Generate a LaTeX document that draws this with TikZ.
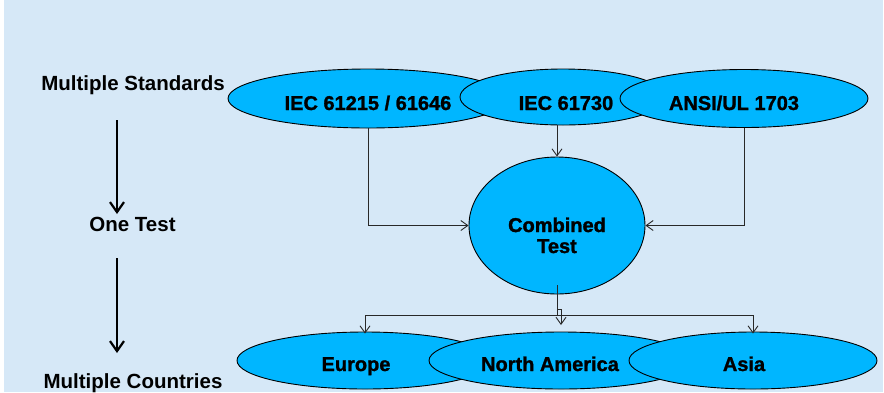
\documentclass[tikz,border=0pt]{standalone}
\usepackage{fontspec}
\setmainfont{Liberation Sans}
\newfontfamily\heavyfont[FakeBold=1.6]{Liberation Sans Bold}
\newfontfamily\ovalfont[FakeBold=1.2]{Liberation Sans Bold}
\usetikzlibrary{shapes.geometric,arrows.meta}
\definecolor{bgblue}{RGB}{214,232,247}
\definecolor{skyfill}{RGB}{0,182,255}
\definecolor{connline}{RGB}{40,40,40}
\tikzset{
  oval/.style={ellipse, draw=black, line width=0.9pt, fill=skyfill, inner sep=0pt},
  ovaltext/.style={anchor=base, font=\fontsize{20}{23}\ovalfont, inner sep=0pt},
  sidelabel/.style={font=\fontsize{20.5}{23}\selectfont\bfseries, inner sep=0pt},
  conn/.style={draw=connline, line width=0.9pt, -{Straight Barb[length=7pt,width=10pt]}},
  plainconn/.style={draw=connline, line width=0.9pt},
  bigarrow/.style={draw=black, line width=2.2pt, -{Straight Barb[length=10pt,width=14pt,line width=2.2pt]}}
}
\begin{document}
\begin{tikzpicture}[x=1pt,y=-1pt]
\useasboundingbox (0,0) rectangle (884,392);
\fill[white] (0,0) rectangle (884,392);
\fill[bgblue] (4,0) rectangle (883,392);

% left labels
\node[sidelabel] (ms) at (133,85) {Multiple Standards};
\node[sidelabel] (ot) at (132.5,224) {One Test};
\node[sidelabel] (mc) at (133,383) {Multiple Countries};
\coordinate (a1s) at (117,120);
\coordinate (a1e) at (117,214);
\coordinate (a2s) at (117,258);
\coordinate (a2e) at (117,353);
\draw[bigarrow] (a1s) -- (a1e);
\draw[bigarrow] (a2s) -- (a2e);

% top ellipses
\node[oval, minimum width=280pt, minimum height=59pt] (e1) at (368,98.5) {};
\node[oval, minimum width=206pt, minimum height=56pt] (e2) at (563,97) {};
\node[oval, minimum width=248pt, minimum height=58pt] (e3) at (744,98.5) {};
\node[ovaltext] (t1) at (368,110) {IEC 61215 / 61646};
\node[ovaltext] (t2) at (566,110) {IEC 61730};
\node[ovaltext] (t3) at (734,110) {ANSI/UL 1703};

% combined test
\node[oval, minimum width=176pt, minimum height=137pt] (ct) at (557,225.5) {};
\node[anchor=base, inner sep=0pt, font=\fontsize{20}{23}\heavyfont] (ct1) at (557,232) {Combined};
\node[anchor=base, inner sep=0pt, font=\fontsize{20}{23}\heavyfont] (ct2) at (557,253) {Test};

% bottom ellipses
\node[oval, minimum width=256pt, minimum height=57pt] (eu) at (365,360.5) {};
\node[oval, minimum width=264pt, minimum height=57pt] (na) at (561,360.5) {};
\node[oval, minimum width=248pt, minimum height=57pt] (as) at (753,360.5) {};
\node[ovaltext] (eut) at (356,371) {Europe};
\node[ovaltext] (nat) at (550,371) {North America};
\node[ovaltext] (ast) at (744,371) {Asia};

% connectors top -> combined
\draw[conn] (e1.south) -- (e1.south |- ct.west) -- (ct.west);
\draw[conn] (e3.south) -- (e3.south |- ct.east) -- (ct.east);
\draw[conn] (ct.north |- e2.south) -- (ct.north);

% connectors combined -> bottom
\coordinate (b0) at (557,285);
\coordinate (bus) at (557,315);
\coordinate (hook) at (557,309);
\coordinate (natip) at (561,325);
\draw[plainconn] (b0) -- (bus);
\draw[conn] (bus) -| ([yshift=-2pt]eu.north);
\draw[conn] (bus) -| ([yshift=-2pt]as.north);
\draw[conn] (hook) -| (natip);
\end{tikzpicture}
\end{document}
